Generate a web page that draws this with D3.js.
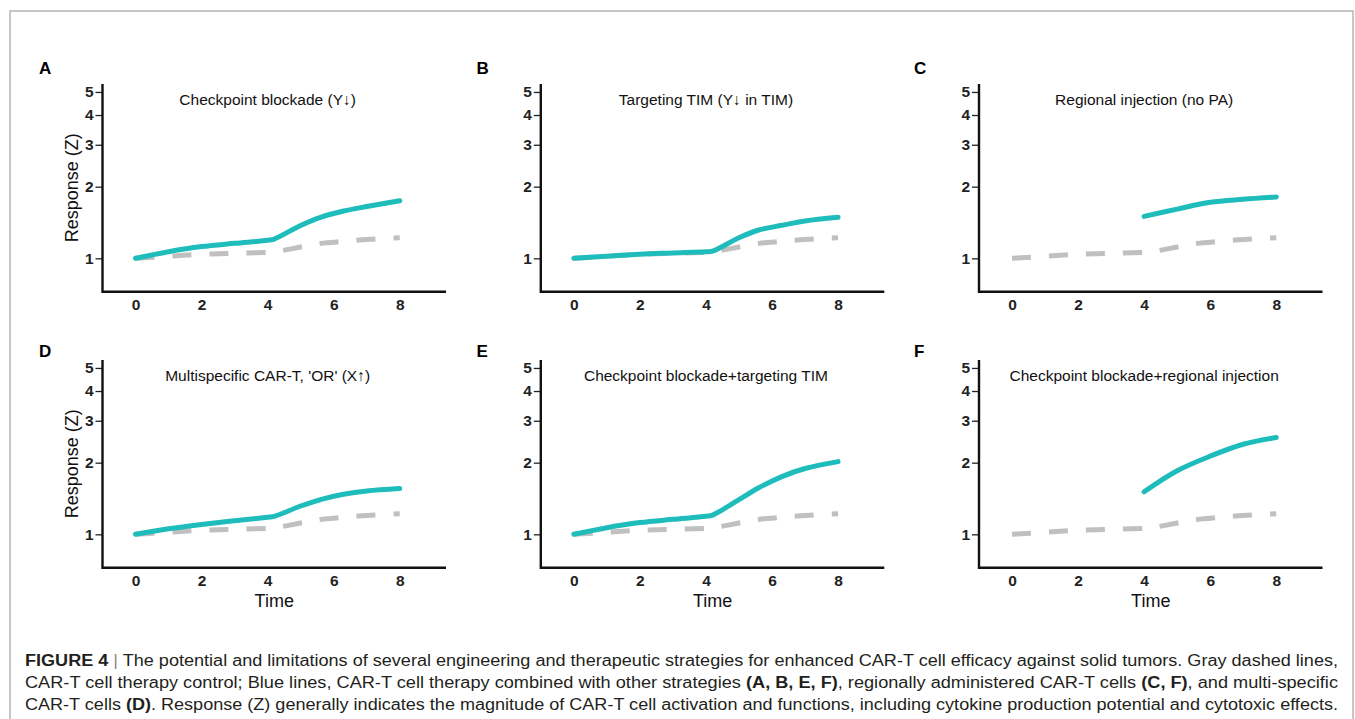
<!DOCTYPE html>
<html>
<head>
<meta charset="utf-8">
<script src="https://cdn.jsdelivr.net/npm/d3@7"></script>
<style>
body { margin:0; background:#fff; }
svg { font-family: "Liberation Sans", Arial, sans-serif; }
</style>
</head>
<body>
<div id="fig"></div>
<script>

// time grid (shared) and series values
var times = [0, 1, 2, 3, 4, 4.2, 5, 5.6, 6.3, 7, 8]
var lateTimes = [4, 5, 6, 7, 8]

var control = [1.00, 1.02, 1.04, 1.05, 1.06, 1.065, 1.115, 1.155, 1.178, 1.20, 1.22]
var seriesA = [1.00, 1.066, 1.12, 1.156, 1.19, 1.205, 1.375, 1.487, 1.58, 1.65, 1.746]
var seriesB = [1.00, 1.02, 1.04, 1.053, 1.066, 1.072, 1.22, 1.315, 1.376, 1.435, 1.487]
var seriesC = [1.50, 1.61, 1.72, 1.77, 1.81]
var seriesD = [1.00, 1.055, 1.10, 1.14, 1.18, 1.19, 1.315, 1.40, 1.473, 1.52, 1.556]
var seriesE = [1.00, 1.066, 1.12, 1.156, 1.19, 1.205, 1.40, 1.57, 1.748, 1.89, 2.02]
var seriesF = [1.51, 1.85, 2.13, 2.39, 2.55]

var panelLetters = ["A", "B", "C", "D", "E", "F"]
var panelTitles = ["Checkpoint blockade (Y\u2193)", "Targeting TIM (Y\u2193 in TIM)", "Regional injection (no PA)",
	"Multispecific CAR-T, 'OR' (X\u2191)", "Checkpoint blockade+targeting TIM", "Checkpoint blockade+regional injection"]
var panelSeries = [seriesA, seriesB, seriesC, seriesD, seriesE, seriesF]
var panelTimes = [times, times, lateTimes, times, times, lateTimes]

var xTicks = [0, 2, 4, 6, 8]
var yTicks = [1, 2, 3, 4, 5]

var W = 1355, H = 719
var svg = d3.select("#fig").append("svg").attr("width", W).attr("height", H)

// outer frame
svg.append("rect").attr("x", 10).attr("y", 11).attr("width", 1343).attr("height", 730)
	.attr("fill", "none").attr("stroke", "#b4b4b4").attr("stroke-width", 1.5)

var colX = [102.5, 540.8, 979]
var rowY = [84, 360]
var plotW = 343.5, plotH = 207.7

panelLetters.forEach(function(letter, i){
	var col = i % 3, row = Math.floor(i / 3)
	var ox = colX[col], oy = rowY[row]

	var x = d3.scaleLinear().domain([-1, 9.4]).range([ox, ox + plotW])
	var y = d3.scaleLog().domain([0.724, 5.4]).range([oy + plotH, oy])

	var g = svg.append("g")

	// panel letter
	g.append("text").attr("x", 39 + col * 437.5).attr("y", row == 0 ? 74 : 357)
		.attr("font-weight", "bold").attr("font-size", 17).text(letter)

	// title
	g.append("text").attr("x", x(4)).attr("y", oy + 21).attr("text-anchor", "middle")
		.attr("font-size", 15.5).attr("fill", "#111").text(panelTitles[i])

	// y axis
	var ya = g.append("g").attr("transform", "translate(" + ox + ",0)")
		.call(d3.axisLeft(y).tickValues(yTicks).tickFormat(d3.format("d")).tickSize(7).tickPadding(2))
	ya.select(".domain").remove()
	ya.selectAll("line").attr("stroke", "#222").attr("stroke-width", 1.3)
	ya.selectAll("text").attr("font-size", 15.5).attr("font-weight", "bold").attr("fill", "#222")
		.attr("font-family", "Liberation Sans, Arial, sans-serif")

	// x axis
	var xa = g.append("g").attr("transform", "translate(0," + (oy + plotH) + ")")
		.call(d3.axisBottom(x).tickValues(xTicks).tickSize(0).tickPadding(7))
	xa.select(".domain").remove()
	xa.selectAll("text").attr("font-size", 15.5).attr("font-weight", "bold").attr("fill", "#222")
		.attr("font-family", "Liberation Sans, Arial, sans-serif")

	// axis lines
	g.append("path").attr("d", "M" + ox + "," + oy + "V" + (oy + plotH) + "H" + (ox + plotW))
		.attr("fill", "none").attr("stroke", "#111").attr("stroke-width", 2.4)

	if (col == 0) {
		g.append("text").attr("transform", "translate(" + 78 + "," + (oy + plotH / 2) + ") rotate(-90)")
			.attr("text-anchor", "middle").attr("font-size", 18).attr("fill", "#111").text("Response (Z)")
	}
	if (row == 1) {
		g.append("text").attr("x", ox + plotW / 2).attr("y", oy + plotH + 39).attr("text-anchor", "middle")
			.attr("font-size", 18).attr("fill", "#111").text("Time")
	}

	var line = d3.line().x(function(d){ return x(d[0]) }).y(function(d){ return y(d[1]) }).curve(d3.curveCatmullRom.alpha(0.5))

	g.append("path").datum(d3.zip(times, control)).attr("d", line)
		.attr("fill", "none").attr("stroke", "#c0c0c0").attr("stroke-width", 5)
		.attr("stroke-dasharray", "19,18")

	g.append("path").datum(d3.zip(panelTimes[i], panelSeries[i])).attr("d", line)
		.attr("fill", "none").attr("stroke", "#1fbcbc").attr("stroke-width", 5)
		.attr("stroke-linecap", "round")
})

// caption
var caption = [
	[["FIGURE 4", true], [" | ", false, "#888"], ["The potential and limitations of several engineering and therapeutic strategies for enhanced CAR-T cell efficacy against solid tumors. Gray dashed lines,", false]],
	[["CAR-T cell therapy control; Blue lines, CAR-T cell therapy combined with other strategies ", false], ["(A, B, E, F)", true], [", regionally administered CAR-T cells ", false], ["(C, F)", true], [", and multi-specific", false]],
	[["CAR-T cells ", false], ["(D)", true], [". Response (Z) generally indicates the magnitude of CAR-T cell activation and functions, including cytokine production potential and cytotoxic effects.", false]]
]
var capY = [666, 688, 710]

caption.forEach(function(parts, li){
	var t = svg.append("text").attr("x", 25).attr("y", capY[li]).attr("font-size", 16)
		.attr("fill", "#231f20").attr("textLength", 1313).attr("lengthAdjust", "spacingAndGlyphs")
	parts.forEach(function(p){
		t.append("tspan").attr("font-weight", p[1] ? "bold" : "normal")
			.attr("fill", p[2] || "#231f20").text(p[0])
	})
})

</script>
</body>
</html>
